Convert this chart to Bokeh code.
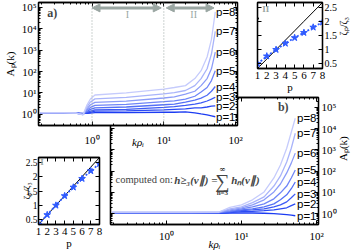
import math
from bokeh.plotting import figure
from bokeh.models import (LogAxis, LinearAxis, Span, Arrow, NormalHead, Label,
                          CustomJSTickFormatter, FixedTicker, LogTicker, GridBox, Range1d)
from bokeh.core.properties import value
from bokeh.embed import file_html
from bokeh.resources import INLINE

# ---------------- data ----------------
P = [1, 2, 3, 4, 5, 6, 7, 8]
P_LABELS = ["p=1", "p=2", "p=3", "p=4", "p=5", "p=6", "p=7", "p=8"]

# panel a) : A_p(k) vs k rho_i
K_A = [0.19, 0.4, 0.6, 0.75, 0.85, 0.95, 1.1, 3, 10, 14, 20, 27, 33, 40, 46, 52]
A_P1 = [1.12, 1.12, 1.12, 1.10, 1.12, 1.15, 1.20, 1.20, 1.25, 1.25, 1.30, 1.17, 1.05, 0.95, 0.85, 0.77]
A_P2 = [1.13, 1.13, 1.12, 1.08, 1.15, 1.25, 1.40, 1.45, 1.60, 1.70, 1.80, 2.00, 2.00, 2.20, 2.40, 2.50]
A_P3 = [1.14, 1.14, 1.13, 1.05, 1.22, 1.40, 1.60, 1.70, 2.10, 2.30, 2.60, 3.00, 3.40, 4.20, 5.10, 6.30]
A_P4 = [1.15, 1.15, 1.13, 1.02, 1.35, 1.70, 2.00, 2.20, 2.80, 3.00, 3.70, 4.60, 5.70, 7.80, 12, 20]
A_P5 = [1.16, 1.16, 1.14, 1.00, 1.55, 2.10, 2.60, 2.90, 3.90, 4.30, 5.10, 7.0, 11, 18, 38, 110]
A_P6 = [1.17, 1.17, 1.14, 0.98, 1.80, 2.80, 3.60, 4.10, 5.80, 6.50, 8.70, 12, 22, 47, 135, 820]
A_P7 = [1.18, 1.18, 1.15, 0.96, 2.20, 3.80, 5.30, 6.20, 9.0, 10.4, 13, 22, 47, 135, 660, 7600]
A_P8 = [1.20, 1.19, 1.15, 0.95, 2.70, 5.20, 8.0, 10, 15, 18, 22, 47, 110, 480, 3200, 62000]

# panel b) : A_p(k) computed on h_{>=3}
K_B = [0.19, 0.5, 1, 2, 5, 7, 10, 14, 20, 27, 33, 40, 46, 52]
B_P1 = [1.05, 1.05, 1.05, 1.05, 1.05, 1.06, 1.08, 1.08, 1.05, 1.0, 0.95, 0.9, 0.85, 0.8]
B_P2 = [1.07, 1.07, 1.07, 1.07, 1.08, 1.12, 1.24, 1.3, 1.4, 1.5, 1.7, 1.9, 2.4, 2.9]
B_P3 = [1.09, 1.09, 1.09, 1.09, 1.10, 1.18, 1.4, 1.5, 1.7, 2.1, 2.6, 3.6, 5.6, 8.6]
B_P4 = [1.10, 1.10, 1.10, 1.10, 1.12, 1.25, 1.5, 1.7, 2.1, 2.9, 4.5, 7.7, 15, 31]
B_P5 = [1.12, 1.12, 1.12, 1.12, 1.14, 1.35, 1.7, 2.1, 2.9, 5.0, 9.6, 20, 48, 114]
B_P6 = [1.14, 1.14, 1.14, 1.14, 1.16, 1.5, 1.9, 2.6, 4.5, 10.6, 25, 83, 240, 710]
B_P7 = [1.16, 1.16, 1.16, 1.16, 1.18, 1.7, 2.1, 3.3, 6.2, 20, 60, 270, 1200, 6100]
B_P8 = [1.18, 1.18, 1.18, 1.18, 1.20, 2.0, 2.6, 4.5, 10.6, 48, 195, 1200, 6800, 31000]

# insets : zeta_p / zeta_3
ZETA_I = [0.34, 0.67, 1.0, 1.33, 1.63, 1.93, 2.2, 2.45]
ZETA_II = [0.5, 0.77, 1.0, 1.22, 1.42, 1.6, 1.79, 1.97]
K41 = [1 / 3, 2 / 3, 1.0, 4 / 3, 5 / 3, 2.0, 7 / 3, 8 / 3]
INSET_Y_TICKS = [0.5, 1, 1.5, 2, 2.5]
RANGE_BOUNDS = [1, 10]          # region I: 1..10, region II: 10..
ARROW_I = [1.0, 9.2]
ARROW_II = [10.8, 50]
ZETA_LABEL = "ζₚ/ζ₃"

# ---------------- style ----------------
COLORS = ["#1c3cf2", "#2b4af4", "#3d5af5", "#5570f6", "#6f85f7", "#8c9cf8", "#a9b4fa", "#c5cbfc"]
BLUE = "#2f5bff"
GRAY = "#9aa6a2"
SERIF = "Liberation Serif"
SANS = "Liberation Sans"
XR = (0.18, 106)
YR_A = (0.30, 1.7e5)
YR_B = (0.31, 2.95e5)
IXR = (1, 8)
IYR = (1 / 3, 8 / 3)

SUP_JS = """
const s = {'0':'⁰','1':'¹','2':'²','3':'³','4':'⁴','5':'⁵','6':'⁶','7':'⁷','8':'⁸','9':'⁹','-':'⁻'};
const e = Math.round(Math.log10(tick));
return '10' + String(e).split('').map(c => s[c]).join('');
"""
NUM_JS = "return String(tick);"


def tick_style(ax, size="11px"):
    ax.major_tick_in = 4
    ax.major_tick_out = 0
    ax.minor_tick_in = 2
    ax.minor_tick_out = 0
    ax.axis_line_color = "black"
    ax.axis_line_width = 1.3
    ax.major_tick_line_color = "black"
    ax.minor_tick_line_color = "black"
    ax.major_label_text_font = SERIF
    ax.major_label_text_font_size = size
    ax.major_label_text_color = "black"
    ax.axis_label_text_font = SERIF
    ax.axis_label_text_font_size = "11px"
    ax.axis_label_text_font_style = "normal"
    ax.axis_label_text_color = "black"


def bottom_up(ax):
    try:
        ax.axis_label_orientation = math.pi / 2
    except Exception:
        pass


def unlabel(ax):
    ax.formatter = CustomJSTickFormatter(code="return '';")
    ax.major_label_text_font_size = "0px"
    ax.major_label_standoff = 0


def mirror(f, kind, side):
    if kind == "log":
        ax = LogAxis(ticker=LogTicker(mantissas=[1], num_minor_ticks=10))
    else:
        ax = LinearAxis(ticker=FixedTicker(ticks=P if side in ("above", "below") else INSET_Y_TICKS))
    tick_style(ax)
    unlabel(ax)
    f.add_layout(ax, side)


def make_fig(fw, fh, xr, yr, kind, left, right, top, bottom, yloc, by_frame=True):
    size = dict(frame_width=fw, frame_height=fh) if by_frame else dict(width=fw, height=fh)
    f = figure(x_range=Range1d(*xr), y_range=Range1d(*yr),
               x_axis_type=kind, y_axis_type=kind, y_axis_location=yloc,
               toolbar_location=None, output_backend="svg",
               min_border_left=left, min_border_right=right,
               min_border_top=top, min_border_bottom=bottom,
               background_fill_color="white", border_fill_color=None,
               outline_line_color="black", outline_line_width=1.3, **size)
    f.grid.visible = False
    return f


def arrow_fig(w, h, x0, y0, x1, y1):
    f = figure(width=w, height=h, x_range=Range1d(0, 1), y_range=Range1d(0, 1),
               x_axis_location=None, y_axis_location=None,
               toolbar_location=None, output_backend="svg", min_border=0,
               background_fill_color=None, border_fill_color=None, outline_line_color=None)
    f.grid.visible = False
    f.add_layout(Arrow(x_start=x0, y_start=y0, x_end=x1, y_end=y1,
                       line_color="black", line_width=2.2,
                       end=NormalHead(size=6, fill_color="black", line_color="black")))
    return f


# ---------------- panel b (drawn first, underneath) ----------------
fb = make_fig(212, 128, XR, YR_B, "log", 10, 35, 2, 27, "right")
xb, yb = fb.xaxis[0], fb.yaxis[0]
for ax in (xb, yb):
    tick_style(ax)
    ax.ticker = LogTicker(mantissas=[1], num_minor_ticks=10)
    ax.formatter = CustomJSTickFormatter(code=SUP_JS)
xb.axis_label = "kρᵢ"
xb.axis_label_text_font_style = "italic"
xb.major_label_standoff = 5
xb.axis_label_standoff = -7
yb.axis_label = "Aₚ(k)"
yb.major_label_standoff = 3
yb.axis_label_standoff = 3
bottom_up(yb)
mirror(fb, "log", "left")
mirror(fb, "log", "above")
for vals, c in zip([B_P1, B_P2, B_P3, B_P4, B_P5, B_P6, B_P7, B_P8], COLORS):
    fb.line(K_B, vals, line_color=c, line_width=1.3)
fb.text(x=[XR[1]] * 8, y=[v[-1] for v in [B_P1, B_P2, B_P3, B_P4, B_P5, B_P6, B_P7, B_P8]],
        text=P_LABELS, x_offset=-2, text_align="right", text_baseline="middle",
        text_font=value(SANS), text_font_size=value("11.5px"), text_color="black")
fb.add_layout(Label(x=36, y=1.1e5, text="b)", text_font=SERIF, text_font_size="12px",
                    text_font_style="bold", text_align="center", text_baseline="middle"))
fb.add_layout(Label(x=0.21, y=39, text="computed on:", text_font=SERIF, text_font_size="10.5px",
                    text_align="left", text_baseline="middle"))
fb.add_layout(Label(x=1.27, y=39, text="h≥₃(v∥) =", text_font=SERIF, text_font_size="11px",
                    text_font_style="bold italic", text_align="left", text_baseline="middle"))
fb.add_layout(Label(x=5.56, y=36, text="∑", text_font=SERIF, text_font_size="20px",
                    text_align="center", text_baseline="middle"))
fb.text(x=[5.56], y=[120], text=["∞"], text_font=value("DejaVu Serif"),
        text_font_size=value("8px"), text_align="center", text_baseline="middle",
        text_color="black")
fb.add_layout(Label(x=5.56, y=9.6, text="n=3", text_font=SERIF, text_font_size="7px",
                    text_font_style="bold", text_align="center", text_baseline="middle"))
fb.add_layout(Label(x=7.3, y=39, text="hₙ(v∥)", text_font=SERIF, text_font_size="11px",
                    text_font_style="bold italic", text_align="left", text_baseline="middle"))

# ---------------- panel a ----------------
fa = make_fig(212, 126, XR, YR_A, "log", 35, 8, 2, 22, "left")
xa, ya = fa.xaxis[0], fa.yaxis[0]
for ax in (xa, ya):
    tick_style(ax)
    ax.ticker = LogTicker(mantissas=[1], num_minor_ticks=10)
    ax.formatter = CustomJSTickFormatter(code=SUP_JS)
xa.axis_label = "kρᵢ"
xa.axis_label_text_font_style = "italic"
xa.major_label_standoff = 8
xa.axis_label_standoff = -13
ya.axis_label = "Aₚ(k)"
ya.major_label_standoff = 2
ya.axis_label_standoff = 3
mirror(fa, "log", "right")
mirror(fa, "log", "above")
for loc in RANGE_BOUNDS:
    fa.add_layout(Span(location=loc, dimension="height", line_color=GRAY,
                       line_dash="1 2", line_width=1))
for (x0, x1) in (ARROW_I, ARROW_II):
    fa.add_layout(Arrow(x_start=x0, y_start=9.5e4, x_end=x1, y_end=9.5e4,
                        line_color=GRAY, line_width=3,
                        start=NormalHead(size=8, fill_color=GRAY, line_color=GRAY),
                        end=NormalHead(size=8, fill_color=GRAY, line_color=GRAY)))
fa.add_layout(Label(x=3.1, y=4.5e4, text="I", text_font=SERIF, text_font_size="10px",
                    text_color=GRAY, text_align="center", text_baseline="middle"))
fa.add_layout(Label(x=26, y=4.5e4, text="II", text_font=SERIF, text_font_size="10px",
                    text_color=GRAY, text_align="center", text_baseline="middle"))
fa.add_layout(Label(x=0.28, y=5.6e4, text="a)", text_font=SERIF, text_font_size="12px",
                    text_font_style="bold", text_align="center", text_baseline="middle"))
for vals, c in zip([A_P1, A_P2, A_P3, A_P4, A_P5, A_P6, A_P7, A_P8], COLORS):
    fa.line(K_A, vals, line_color=c, line_width=1.3)
fa.text(x=[XR[1]] * 8, y=[v[-1] for v in [A_P1, A_P2, A_P3, A_P4, A_P5, A_P6, A_P7, A_P8]],
        text=P_LABELS, x_offset=-2, text_align="right", text_baseline="middle",
        text_font=value(SANS), text_font_size=value("11.5px"), text_color="black")


# ---------------- insets ----------------
def inset(fw, fh, left, right, top, bottom, yloc, zeta, tag, tagx, tagy, by_frame):
    f = make_fig(fw, fh, IXR, IYR, "linear", left, right, top, bottom, yloc, by_frame)
    xi, yi = f.xaxis[0], f.yaxis[0]
    tick_style(xi, "11px")
    xi.ticker = FixedTicker(ticks=P)
    yi.ticker = FixedTicker(ticks=INSET_Y_TICKS)
    xi.formatter = CustomJSTickFormatter(code=NUM_JS)
    yi.formatter = CustomJSTickFormatter(code=NUM_JS)
    xi.axis_label = "p"
    xi.major_label_standoff = 3
    xi.axis_label_standoff = -1
    yi.axis_label = ZETA_LABEL
    if yloc == "right":
        tick_style(yi, "10px")
        yi.major_label_standoff = 2
        yi.axis_label_text_font_size = "10px"
        yi.axis_label_standoff = 3
        bottom_up(yi)
    else:
        tick_style(yi, "9.5px")
        yi.major_label_standoff = 1
        yi.axis_label_text_font_size = "9px"
        yi.axis_label_standoff = -9
    mirror(f, "linear", "above")
    mirror(f, "linear", "left" if yloc == "right" else "right")
    f.line(P, K41, line_color="black", line_width=1)
    f.line(P, zeta, line_color=BLUE, line_width=1.8, line_dash="2 2")
    f.scatter(P, zeta, marker="star", size=7, color=BLUE)
    f.add_layout(Label(x=tagx, y=tagy, text=tag, text_font=SERIF, text_font_size="9px",
                       text_font_style="bold", text_color=GRAY,
                       text_align="center", text_baseline="middle"))
    return f


fi = inset(105, 124, 15, 6, 29, 27, "left", ZETA_I, "I", 1.4, 2.5, False)
fii = inset(65, 66, 12, 35, 2, 27, "right", ZETA_II, "II", 1.9, 2.45, True)

# connecting arrows (in their own small transparent canvases)
arr_v = arrow_fig(14, 30, 0.5, 1.0, 0.5, 0.03)
arr_h = arrow_fig(14, 16, 0.14, 0.5, 0.86, 0.5)

# ---------------- layout ----------------
grid = GridBox(children=[(fb, 3, 3, 4, 4), (fa, 0, 0, 5, 5), (fi, 4, 0, 3, 4),
                         (fii, 0, 5, 3, 2), (arr_v, 4, 1, 2, 1), (arr_h, 1, 5, 1, 1)],
               rows=["10px", "16px", "69px", "33px", "22px", "8px", "94px"],
               cols=["40px", "14px", "46px", "5px", "140px", "14px", "98px"],
               spacing=0, width=357, height=252, sizing_mode="fixed")

open("out.html", "w").write(file_html(grid, INLINE))
